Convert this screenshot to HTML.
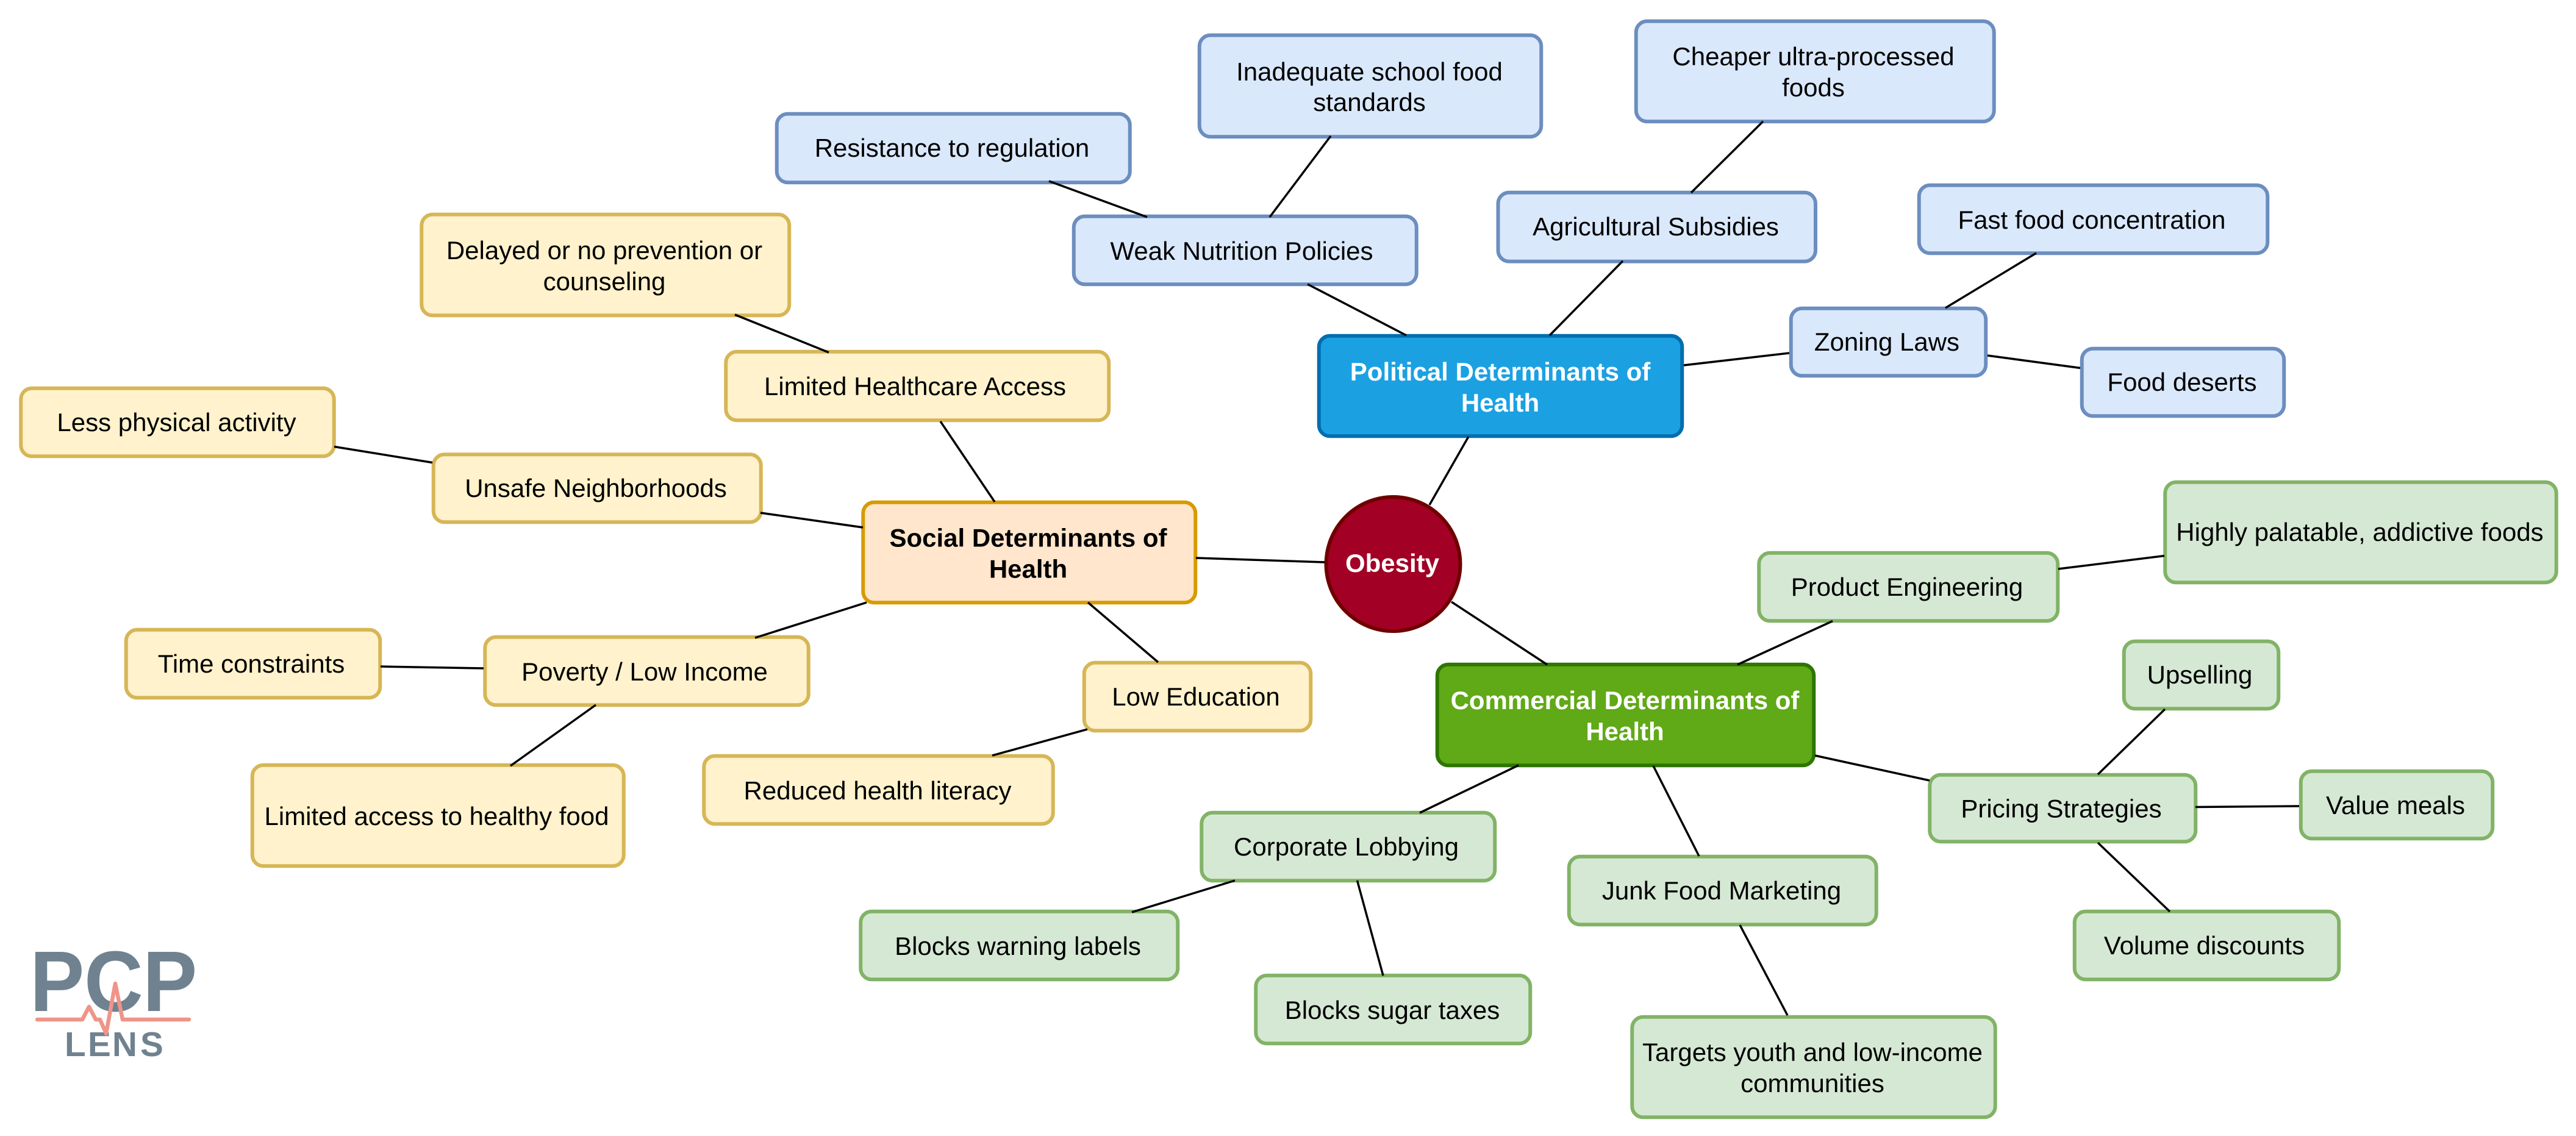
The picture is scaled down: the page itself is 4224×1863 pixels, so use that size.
<!DOCTYPE html>
<html><head><meta charset="utf-8"><title>Obesity determinants</title>
<style>
html,body{margin:0;padding:0;background:#fff;width:4224px;height:1863px;overflow:hidden}
svg{display:block}
text{font-family:"Liberation Sans",Arial,sans-serif;font-size:42px;text-anchor:middle;fill:#000}
rect{stroke-width:6}
.b rect{fill:#dae8fc;stroke:#6c8ebf}
.y rect{fill:#fff2cc;stroke:#d6b656}
.g rect{fill:#d5e8d4;stroke:#82b366}
.h text{font-weight:bold}
.w text{fill:#fff}
.logo text{font-weight:bold;fill:#708290;text-anchor:start}
</style></head><body>
<svg xmlns="http://www.w3.org/2000/svg" width="4224" height="1863" viewBox="0 0 4224 1863">
<g class="b">
<rect x="1273.75" y="186.75" width="579" height="112.5" rx="18"/><text x="1561" y="257">Resistance to regulation</text>
<rect x="1966.75" y="57.75" width="560.5" height="166.5" rx="18"/><text x="2245.5" y="132">Inadequate school food</text><text x="2245.5" y="182">standards</text>
<rect x="2682.75" y="34.75" width="587" height="164.5" rx="18"/><text x="2973.5" y="107">Cheaper ultra-processed</text><text x="2973.5" y="158">foods</text>
<rect x="1760.75" y="354.75" width="562" height="111.5" rx="18"/><text x="2036" y="426">Weak Nutrition Policies</text>
<rect x="2456.5" y="315.75" width="520.5" height="113" rx="18"/><text x="2715" y="386">Agricultural Subsidies</text>
<rect x="3146.75" y="303.75" width="571.5" height="111.5" rx="18"/><text x="3430" y="375">Fast food concentration</text>
<rect x="2936.75" y="505.75" width="319.5" height="110.5" rx="18"/><text x="3094" y="575">Zoning Laws</text>
<rect x="3413.75" y="571.75" width="331.5" height="110.5" rx="18"/><text x="3578" y="641">Food deserts</text>
</g>
<g class="h w"><rect x="2162.75" y="550.75" width="595.5" height="164.5" rx="18" fill="#1ba1e2" stroke="#006eaf"/><text x="2460" y="624">Political Determinants of</text><text x="2460" y="675">Health</text></g>
<g class="y">
<rect x="691.25" y="351.75" width="603" height="165.5" rx="18"/><text x="991" y="425">Delayed or no prevention or</text><text x="991" y="476">counseling</text>
<rect x="1190.25" y="576.75" width="628" height="112.5" rx="18"/><text x="1500.5" y="648">Limited Healthcare Access</text>
<rect x="34.25" y="636.75" width="513.5" height="111.5" rx="18"/><text x="289.5" y="707">Less physical activity</text>
<rect x="710.75" y="745.25" width="537" height="111" rx="18"/><text x="977" y="815">Unsafe Neighborhoods</text>
<rect x="206.75" y="1032.75" width="416.5" height="111.5" rx="18"/><text x="412" y="1103">Time constraints</text>
<rect x="795.25" y="1044.75" width="530.5" height="111.5" rx="18"/><text x="1057" y="1116">Poverty / Low Income</text>
<rect x="413.75" y="1254.75" width="609" height="165.5" rx="18"/><text x="716" y="1353">Limited access to healthy food</text>
<rect x="1777.75" y="1086.75" width="371.5" height="111.5" rx="18"/><text x="1961" y="1157">Low Education</text>
<rect x="1154.25" y="1239.75" width="572.5" height="111.5" rx="18"/><text x="1439" y="1311">Reduced health literacy</text>
</g>
<g class="h"><rect x="1415.25" y="823.75" width="545" height="164.5" rx="18" fill="#ffe6cc" stroke="#d79b00"/><text x="1686" y="896.5">Social Determinants of</text><text x="1686" y="947.5">Health</text></g>
<g class="g">
<rect x="3550.25" y="790.75" width="641.5" height="164.5" rx="18"/><text x="3869.5" y="887">Highly palatable, addictive foods</text>
<rect x="2884.25" y="906.75" width="490" height="111.5" rx="18"/><text x="3127" y="977">Product Engineering</text>
<rect x="3482.75" y="1051.75" width="253.5" height="110.5" rx="18"/><text x="3607" y="1121">Upselling</text>
<rect x="3164.25" y="1270.75" width="436" height="109.5" rx="18"/><text x="3380" y="1340.5">Pricing Strategies</text>
<rect x="3772.75" y="1264.75" width="314.5" height="110.5" rx="18"/><text x="3928" y="1335">Value meals</text>
<rect x="3401.75" y="1494.75" width="433.5" height="111.5" rx="18"/><text x="3614.5" y="1565">Volume discounts</text>
<rect x="1970.25" y="1332.75" width="481" height="111.5" rx="18"/><text x="2207.5" y="1403">Corporate Lobbying</text>
<rect x="2572.75" y="1404.75" width="504" height="111.5" rx="18"/><text x="2823" y="1475">Junk Food Marketing</text>
<rect x="1411.25" y="1494.75" width="520" height="111.5" rx="18"/><text x="1669" y="1566">Blocks warning labels</text>
<rect x="2059.25" y="1599.75" width="450" height="111.5" rx="18"/><text x="2283" y="1671">Blocks sugar taxes</text>
<rect x="2676.25" y="1667.75" width="595.5" height="164.5" rx="18"/><text x="2972" y="1740">Targets youth and low-income</text><text x="2972" y="1791">communities</text>
</g>
<g class="h w"><rect x="2356.75" y="1089.75" width="617.5" height="165.5" rx="18" fill="#60a917" stroke="#2d7600"/><text x="2664.5" y="1163">Commercial Determinants of</text><text x="2664.5" y="1214">Health</text></g>
<g class="h w"><circle cx="2284.5" cy="925" r="110" fill="#a20025" stroke="#6f0000" stroke-width="6"/><text x="2283" y="938">Obesity</text></g>
<g stroke="#000" stroke-width="3.5" fill="none">
<path d="M2408 716L2344 828M1961 915L2172 922M2380 987L2537 1090M2144 466L2306 550M2661 428L2541 550M2761 599L2934 579M1720 297L1881 356M2182 223L2082 356M2891 199L2773 316M3339 415L3190 505M3259 583L3411 603.5"/>
<path d="M1205 516L1359 578M1631 823L1542 691M548 732.5L709 758.6M1247 841L1415 865M624 1093L793 1096M1238 1046L1421 988M977 1156L837 1256M1899 1086L1784 988M1627 1239L1783 1196"/>
<path d="M3005 1018.5L2849 1090M3375 933L3549 911.5M2976 1239L3164 1280M3550 1163L3440 1270M3600 1323.5L3770 1322M3440 1382L3558 1495M2328 1333L2490 1255M2786 1404L2711 1256M1856 1496L2025 1444M2225.5 1444L2268 1600M2853 1517L2931 1665"/>
</g>
<g class="logo">
<text transform="translate(49,1658) scale(.95,1)" style="font-size:141px">P</text>
<text transform="translate(138,1658) scale(.95,1)" style="font-size:141px">C</text>
<text transform="translate(234,1658) scale(.95,1)" style="font-size:141px">P</text>
<text x="106" y="1732" style="font-size:56.7px">L</text>
<text x="144" y="1732" style="font-size:56.7px">E</text>
<text x="184" y="1732" style="font-size:56.7px">N</text>
<text x="230" y="1732" style="font-size:56.7px">S</text>
</g>
<path d="M61 1672H135L146 1651L157 1672H164L174 1695L189 1613L201 1672H310" fill="none" stroke="#ef9488" stroke-width="6.5" stroke-linecap="round" stroke-linejoin="round"/>
</svg>
</body></html>
